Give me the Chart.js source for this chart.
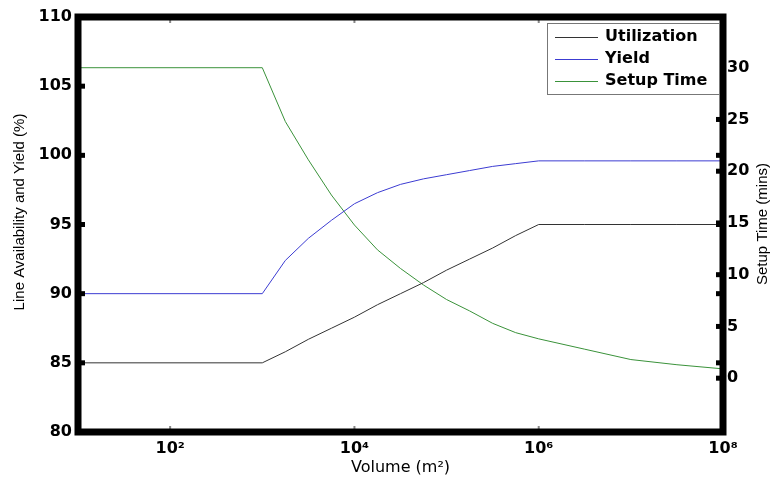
<!DOCTYPE html>
<html>
<head>
<meta charset="utf-8">
<script src="https://cdn.jsdelivr.net/npm/chart.js@4/dist/chart.umd.min.js"></script>
<style>
  html, body { margin: 0; padding: 0; background: #fff; }
  #wrap { width: 772px; height: 482px; }
</style>
</head>
<body>
<div id="wrap"><canvas id="chart"></canvas></div>
<script>
// Volume (m^2), read at quarter/half-decade steps
const volume = [10, 1000, 1778, 3162, 5623, 10000, 17783, 31623, 56234, 100000, 177828, 316228, 562341, 1000000, 3162278, 10000000, 31622777, 100000000];
const utilization = [85, 85, 85.8, 86.7, 87.5, 88.3, 89.2, 90.0, 90.8, 91.7, 92.5, 93.3, 94.2, 95, 95, 95, 95, 95];
const yieldPct = [90, 90, 92.4, 94.0, 95.3, 96.5, 97.3, 97.9, 98.3, 98.6, 98.9, 99.2, 99.4, 99.6, 99.6, 99.6, 99.6, 99.6];
const setupTime = [30, 30, 24.8, 21.1, 17.7, 14.8, 12.4, 10.6, 9.0, 7.6, 6.5, 5.3, 4.4, 3.8, 2.8, 1.8, 1.3, 0.9];

const xTickValues = [100, 10000, 1000000, 100000000];
const xTickLabels = ['10²', '10⁴', '10⁶', '10⁸'];
const leftTicks = [80, 85, 90, 95, 100, 105, 110];
const rightTicks = [0, 5, 10, 15, 20, 25, 30];

const seriesColors = ['#333333', '#3c3cd2', '#3a923a'];
const tickFont = { family: '"DejaVu Sans", sans-serif', size: 16, weight: 'bold' };

function points(ys) {
    return volume.map((v, i) => ({ x: v, y: ys[i] }));
}

// Frame, inward ticks, legend box and the two vertical titles
const frame = {
    id: 'frame',
    afterDatasetsDraw(chart) {
        const { ctx, chartArea: a, scales } = chart;
        ctx.save();
        ctx.fillStyle = '#000';
        leftTicks.forEach(v => {
            const y = scales.y.getPixelForValue(v);
            ctx.fillRect(a.left, y - 2.5, 7, 5);
            ctx.fillRect(a.right - 7, y - 2.5, 7, 5);
        });
        rightTicks.forEach(v => {
            const y = scales.y2.getPixelForValue(v);
            ctx.fillRect(a.right - 7, y - 2.5, 7, 5);
        });
        ctx.fillStyle = '#888';
        xTickValues.forEach(v => {
            const x = scales.x.getPixelForValue(v);
            ctx.fillRect(x - 1, a.bottom - 6, 2, 3);
            ctx.fillRect(x - 1, a.top + 3, 2, 3);
        });

        ctx.strokeStyle = '#000';
        ctx.lineWidth = 7;
        ctx.strokeRect(a.left, a.top, a.right - a.left, a.bottom - a.top);

        // legend inside the plot, top right
        ctx.fillStyle = '#fff';
        ctx.fillRect(547, 23, 172, 71);
        ctx.strokeStyle = '#777';
        ctx.lineWidth = 1;
        ctx.strokeRect(547.5, 23.5, 172, 71);
        ctx.font = 'bold 16px "DejaVu Sans"';
        ctx.textAlign = 'left';
        ctx.textBaseline = 'middle';
        chart.data.datasets.forEach((ds, i) => {
            const y = 37 + i * 22;
            ctx.strokeStyle = seriesColors[i];
            ctx.lineWidth = 1;
            ctx.beginPath();
            ctx.moveTo(555, y + 0.5);
            ctx.lineTo(598, y + 0.5);
            ctx.stroke();
            ctx.fillStyle = '#000';
            ctx.fillText(ds.label, 605, y);
        });

        ctx.font = '15px "Liberation Sans"';
        ctx.textAlign = 'center';
        ctx.fillStyle = '#000';
        ctx.save();
        ctx.translate(20, 212);
        ctx.rotate(-Math.PI / 2);
        ctx.fillText('Line Availability and Yield (%)', 0, 0);
        ctx.restore();
        ctx.save();
        ctx.translate(763, 224);
        ctx.rotate(-Math.PI / 2);
        ctx.fillText('Setup Time (mins)', 0, 0);
        ctx.restore();
        ctx.restore();
    }
};

new Chart(document.getElementById('chart').getContext('2d'), {
    type: 'line',
    data: {
        datasets: [{
            label: 'Utilization',
            data: points(utilization),
            borderColor: seriesColors[0],
            yAxisID: 'y'
        }, {
            label: 'Yield',
            data: points(yieldPct),
            borderColor: seriesColors[1],
            yAxisID: 'y'
        }, {
            label: 'Setup Time',
            data: points(setupTime),
            borderColor: seriesColors[2],
            yAxisID: 'y2'
        }]
    },
    options: {
        responsive: true,
        maintainAspectRatio: false,
        animation: false,
        layout: { padding: { top: 17, left: 0, right: 0, bottom: 0 } },
        elements: {
            line: { borderWidth: 1, tension: 0 },
            point: { radius: 0 }
        },
        plugins: {
            legend: { display: false },
            tooltip: { enabled: false }
        },
        scales: {
            x: {
                type: 'logarithmic',
                min: 10,
                max: 100000000,
                afterBuildTicks: s => { s.ticks = xTickValues.map(v => ({ value: v })); },
                afterFit: s => { s.height = 50; },
                grid: { display: false, drawTicks: false },
                border: { display: false },
                ticks: {
                    autoSkip: false,
                    maxRotation: 0,
                    padding: 7,
                    color: '#000',
                    font: tickFont,
                    callback: v => xTickLabels[xTickValues.indexOf(v)]
                },
                title: {
                    display: true,
                    text: 'Volume (m²)',
                    color: '#000',
                    font: { family: '"DejaVu Sans", sans-serif', size: 16 },
                    padding: { top: 0, bottom: 5 }
                }
            },
            y: {
                position: 'left',
                min: 80,
                max: 110,
                afterBuildTicks: s => { s.ticks = leftTicks.map(v => ({ value: v })); },
                afterFit: s => { s.width = 78; },
                grid: { display: false, drawTicks: false },
                border: { display: false },
                ticks: { padding: 6, color: '#000', font: tickFont }
            },
            y2: {
                position: 'right',
                min: -5.2,
                max: 34.9,
                afterBuildTicks: s => { s.ticks = rightTicks.map(v => ({ value: v })); },
                afterFit: s => { s.width = 49; },
                grid: { display: false, drawTicks: false },
                border: { display: false },
                ticks: { padding: 4, color: '#000', font: tickFont }
            }
        }
    },
    plugins: [frame]
});
</script>
</body>
</html>
